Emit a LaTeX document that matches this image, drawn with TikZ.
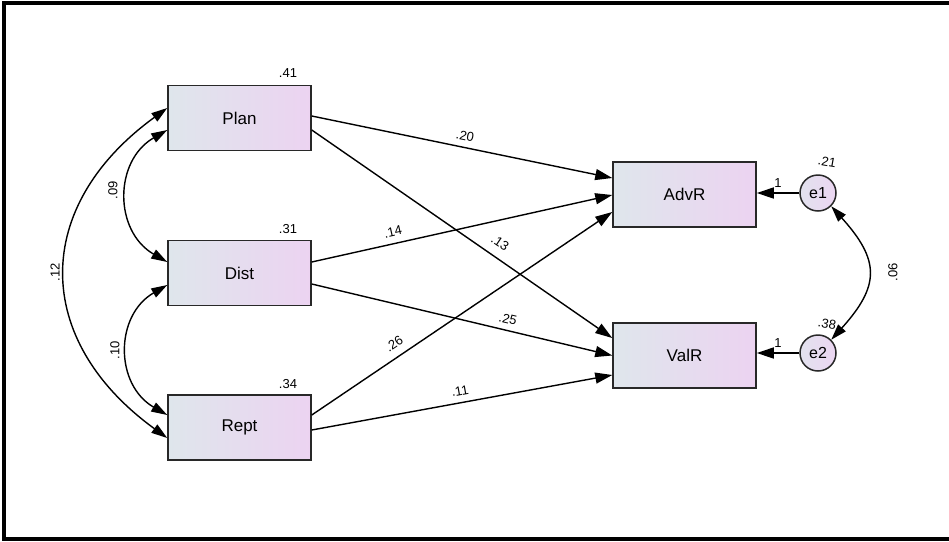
\documentclass[tikz,border=0pt]{standalone}
\usepackage{fontspec}
\setmainfont{Liberation Sans}
\usetikzlibrary{arrows.meta,shadings}
\definecolor{boxL}{RGB}{223,230,236}
\definecolor{boxR}{RGB}{236,211,241}
\definecolor{errL}{RGB}{226,226,238}
\definecolor{errR}{RGB}{236,214,242}
\definecolor{edge}{RGB}{40,40,40}
\begin{document}
\begin{tikzpicture}[x=1pt,y=-1pt,
 box/.style={draw=edge,line width=1.5pt,left color=boxL,right color=boxR,minimum width=143pt,minimum height=65pt,font=\fontsize{17}{19}\selectfont,inner sep=0pt},
 err/.style={circle,draw=edge,line width=1.5pt,left color=errL,right color=errR,minimum size=36pt,inner sep=0pt,font=\fontsize{16}{18}\selectfont},
 reg/.style={-{Triangle[length=17pt,width=11pt]},line width=1.4pt},
 cov/.style={{Triangle[length=16pt,width=10pt]}-{Triangle[length=16pt,width=10pt]},line width=1.4pt},
 lab/.style={font=\fontsize{13}{15}\selectfont,inner sep=0.5pt},
]
\useasboundingbox (0,0) rectangle (949,541);
\draw[line width=4pt] (949,2.5) -- (4.3,2.5) -- (4.3,538.5) -- (949,538.5);

\node[box] (Plan) at (239.5,118) {Plan};
\node[box] (Dist) at (239.5,273) {Dist};
\node[box] (Rept) at (239.5,427.5) {Rept};
\node[box] (AdvR) at (684.5,194.5) {AdvR};
\node[box] (ValR) at (684.5,355.5) {ValR};
\node[err] (e1) at (818,193) {e1};
\node[err] (e2) at (818,353) {e2};

% R-square labels
\node[lab] (r41) at (288,73) {.41};
\node[lab] (r31) at (288,229) {.31};
\node[lab] (r34) at (288,384) {.34};
\node[lab,rotate=-10] (r21) at (827,162) {.21};
\node[lab,rotate=-10] (r38) at (827,324) {.38};

% regressions
\draw[reg] ([yshift=2pt]Plan.east) -- ([yshift=16.5pt]AdvR.west);
\draw[reg] ([yshift=-12pt]Plan.east) -- ([yshift=17.5pt]ValR.west);
\draw[reg] ([yshift=11pt]Dist.east) -- ([yshift=-0.5pt]AdvR.west);
\draw[reg] ([yshift=-11pt]Dist.east) -- ([yshift=0pt]ValR.west);
\draw[reg] ([yshift=12.5pt]Rept.east) -- ([yshift=-17.5pt]AdvR.west);
\draw[reg] ([yshift=-2.5pt]Rept.east) -- ([yshift=-19.5pt]ValR.west);
\draw[reg] (e1) -- (e1 -| AdvR.east);
\draw[reg] (e2) -- (e2 -| ValR.east);

\node[lab,rotate=-11.6] (l20) at (465,136) {.20};
\node[lab,rotate=12.5] (l14) at (393,232) {.14};
\node[lab,rotate=-34] (l13) at (500,243) {.13};
\node[lab,rotate=-13.3] (l25) at (508,319) {.25};
\node[lab,rotate=34] (l26) at (394,344) {.26};
\node[lab,rotate=10.4] (l11) at (460,391) {.11};
\node[lab] (one1) at (778,183) {1};
\node[lab] (one2) at (778,343) {1};

% covariances
\draw[cov] ([yshift=-12pt]Plan.west) to[out=210,in=150,looseness=1.2] ([yshift=11pt]Dist.west);
\draw[cov] ([yshift=-12pt]Dist.west) to[out=210,in=150,looseness=1.2] ([yshift=12.5pt]Rept.west);
\draw[cov] ([yshift=10pt]Plan.west) to[out=216,in=144,looseness=1.3] ([yshift=-10.5pt]Rept.west);
\draw[cov] (e1.-45) to[out=-48,in=48,looseness=1.4] (e2.45);

\node[lab,rotate=90] (c09) at (113,190) {.09};
\node[lab,rotate=90] (c10) at (115,350) {.10};
\node[lab,rotate=90] (c12) at (55,272) {.12};
\node[lab,rotate=90] (c06) at (893,272) {.06};
\end{tikzpicture}
\end{document}
